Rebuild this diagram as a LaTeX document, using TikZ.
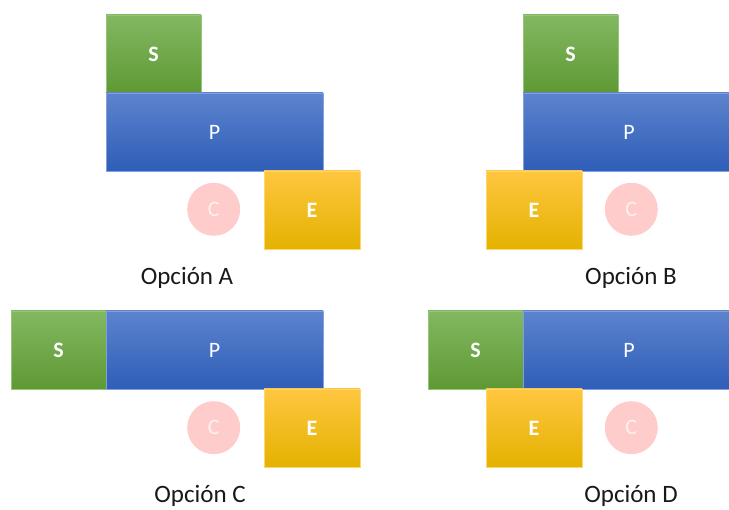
\documentclass[tikz,border=0pt]{standalone}
\usepackage{fontspec}
\setmainfont{Carlito}
\begin{document}
\begin{tikzpicture}[x=1pt,y=-1pt,
  box/.style={rectangle,inner sep=0pt,outer sep=0pt,text=white,
    font=\fontsize{22}{26}\selectfont},
  sbox/.style={box,minimum width=95pt,minimum height=78pt,
    top color={rgb,255:red,130;green,184;blue,97},
    bottom color={rgb,255:red,95;green,153;blue,52},
    draw={rgb,255:red,150;green,196;blue,120},line width=0.4pt,
    font=\fontsize{22}{26}\selectfont\bfseries},
  pbox/.style={box,minimum height=78pt,
    top color={rgb,255:red,92;green,131;blue,205},
    bottom color={rgb,255:red,47;green,94;blue,184},
    draw={rgb,255:red,130;green,160;blue,220},line width=0.4pt},
  ebox/.style={box,minimum width=96pt,minimum height=78pt,
    top color={rgb,255:red,255;green,198;blue,64},
    middle color={rgb,255:red,255;green,192;blue,0},
    bottom color={rgb,255:red,228;green,178;blue,0},
    draw={rgb,255:red,255;green,214;blue,110},line width=0.4pt,
    font=\fontsize{22}{26}\selectfont\bfseries},
  cdisc/.style={circle,inner sep=0pt,minimum size=53pt,
    fill={rgb,255:red,255;green,204;blue,204},
    text={rgb,255:red,255;green,240;blue,240},
    font=\fontsize{22}{26}\selectfont},
  caption/.style={inner sep=0pt,text=black!90,font=\fontsize{25}{29}\selectfont}
]
\useasboundingbox (0,0) rectangle (729,510);

% Opción A
\node[sbox] (sA) at (153.5,54) {S};
\node[pbox,minimum width=217pt] (pA) at (214.5,132) {P};
\node[ebox] (eA) at (312,210) {E};
\node[cdisc] (cA) at (213.7,209.3) {C};
\node[caption] (lA) at (187,278) {Opción A};

% Opción B (the wide bar runs off the right edge)
\begin{scope}
\clip (0,0) rectangle (729,510);
\node[sbox] (sB) at (570.5,54) {S};
\node[pbox,minimum width=212pt] (pB) at (629,132) {P};
\end{scope}
\node[ebox] (eB) at (534,210) {E};
\node[cdisc] (cB) at (631.3,209.3) {C};
\node[caption] (lB) at (631,278) {Opción B};

% Opción C
\node[sbox] (sC) at (58.5,350) {S};
\node[pbox,minimum width=217pt] (pC) at (214.5,350) {P};
\node[ebox] (eC) at (312,428) {E};
\node[cdisc] (cC) at (213.7,427.7) {C};
\node[caption] (lC) at (200,496) {Opción C};

% Opción D
\begin{scope}
\clip (0,0) rectangle (729,510);
\node[sbox] (sD) at (475.5,350) {S};
\node[pbox,minimum width=212pt] (pD) at (629,350) {P};
\end{scope}
\node[ebox] (eD) at (534,428) {E};
\node[cdisc] (cD) at (631.3,427.7) {C};
\node[caption] (lD) at (631,496) {Opción D};
\end{tikzpicture}
\end{document}
